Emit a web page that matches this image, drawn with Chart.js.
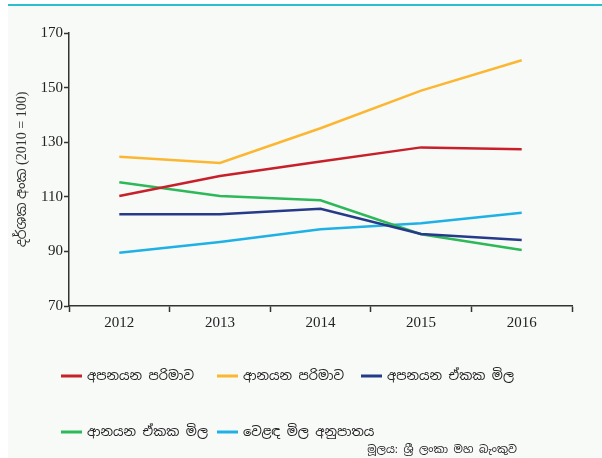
<!DOCTYPE html>
<html>
<head>
<meta charset="utf-8">
<script src="https://cdn.jsdelivr.net/npm/chart.js@4"></script>
<style>
  html, body { margin: 0; padding: 0; background: #ffffff; }
  #wrap { position: relative; width: 602px; height: 458px; }
  #panel { position: absolute; left: 8px; top: 4px; width: 594px; height: 454px; background: #f8faf8; border-top: 2px solid #2bbfd0; box-sizing: border-box; }
  #c { position: absolute; left: 0; top: 0; }
</style>
</head>
<body>
<div id="wrap">
  <div id="panel"></div>
  <canvas id="c" width="602" height="458"></canvas>
</div>
<script>
const years = ['2012', '2013', '2014', '2015', '2016'];
const exportVolume = [110.3, 117.6, 122.9, 128.1, 127.4];
const importVolume = [124.7, 122.4, 135.1, 148.9, 160.0];
const exportUnitValue = [103.6, 103.6, 105.6, 96.4, 94.2];
const importUnitValue = [115.3, 110.3, 108.7, 96.3, 90.5];
const termsOfTrade = [89.5, 93.4, 98.1, 100.3, 104.2];
const seriesNames = ['අපනයන පරිමාව', 'ආනයන පරිමාව', 'අපනයන ඒකක මිල', 'ආනයන ඒකක මිල', 'වෙළඳ මිල අනුපාතය'];
const seriesColors = ['#c8202a', '#fbb731', '#263a8a', '#2db85a', '#1fb0e6'];
const yTicks = [70, 90, 110, 130, 150, 170];
const yTitle = 'දර්ශක අංක (2010 = 100)';
const sourceNote = 'මූලය: ශ්‍රී ලංකා මහ බැංකුව';

const sinhalaFont = "'Noto Sans Sinhala', 'Noto Sans', 'DejaVu Sans', sans-serif";
const serifFont = "'Liberation Serif', 'DejaVu Serif', serif";

// legend drawn in a fixed 3-column grid like the reference
const gridLegend = {
  id: 'gridLegend',
  afterDraw(chart) {
    const ctx = chart.ctx;
    const cols = [61, 217, 361];
    const rows = [376, 432];
    ctx.save();
    ctx.font = '13px ' + sinhalaFont;
    ctx.textBaseline = 'middle';
    ctx.fillStyle = '#222';
    chart.data.datasets.forEach((ds, i) => {
      const x = cols[i % 3], y = rows[Math.floor(i / 3)];
      ctx.strokeStyle = ds.borderColor;
      ctx.lineWidth = 3;
      ctx.beginPath();
      ctx.moveTo(x, y);
      ctx.lineTo(x + 21, y);
      ctx.stroke();
      ctx.fillText(ds.label, x + 26, y);
    });
    ctx.font = '11px ' + sinhalaFont;
    ctx.textAlign = 'right';
    ctx.fillText(sourceNote, 517, 450);
    ctx.restore();
  }
};

const allSeries = [exportVolume, importVolume, exportUnitValue, importUnitValue, termsOfTrade];

new Chart(document.getElementById('c'), {
  type: 'line',
  data: {
    labels: years,
    datasets: allSeries.map((d, i) => ({
      label: seriesNames[i],
      data: d,
      borderColor: seriesColors[i],
      backgroundColor: seriesColors[i],
      borderWidth: 2.5,
      pointRadius: 0,
      tension: 0
    }))
  },
  options: {
    responsive: false,
    animation: false,
    layout: { padding: { left: 8, top: 33, right: 30, bottom: 0 } },
    plugins: { legend: { display: false }, tooltip: { enabled: false } },
    scales: {
      x: {
        offset: true,
        grid: { offset: true, drawOnChartArea: false, tickLength: 6, color: '#333', tickWidth: 1.5 },
        border: { color: '#333', width: 1.5 },
        ticks: { color: '#222', padding: 2, font: { family: serifFont, size: 15 } },
        afterFit(scale) { scale.height = 152; }
      },
      y: {
        min: 70,
        max: 170,
        afterBuildTicks(scale) { scale.ticks = yTicks.map(v => ({ value: v })); },
        grid: { drawOnChartArea: false, tickLength: 5, color: '#333', tickWidth: 1.5 },
        border: { color: '#333', width: 1.5 },
        ticks: { color: '#222', padding: 1, font: { family: serifFont, size: 15 } },
        title: { display: true, text: yTitle, color: '#333', padding: { top: 6, bottom: 0 }, font: { family: "'Liberation Serif', " + sinhalaFont, size: 14 } },
        afterFit(scale) { scale.width = 61; }
      }
    }
  },
  plugins: [gridLegend]
});
</script>
</body>
</html>
